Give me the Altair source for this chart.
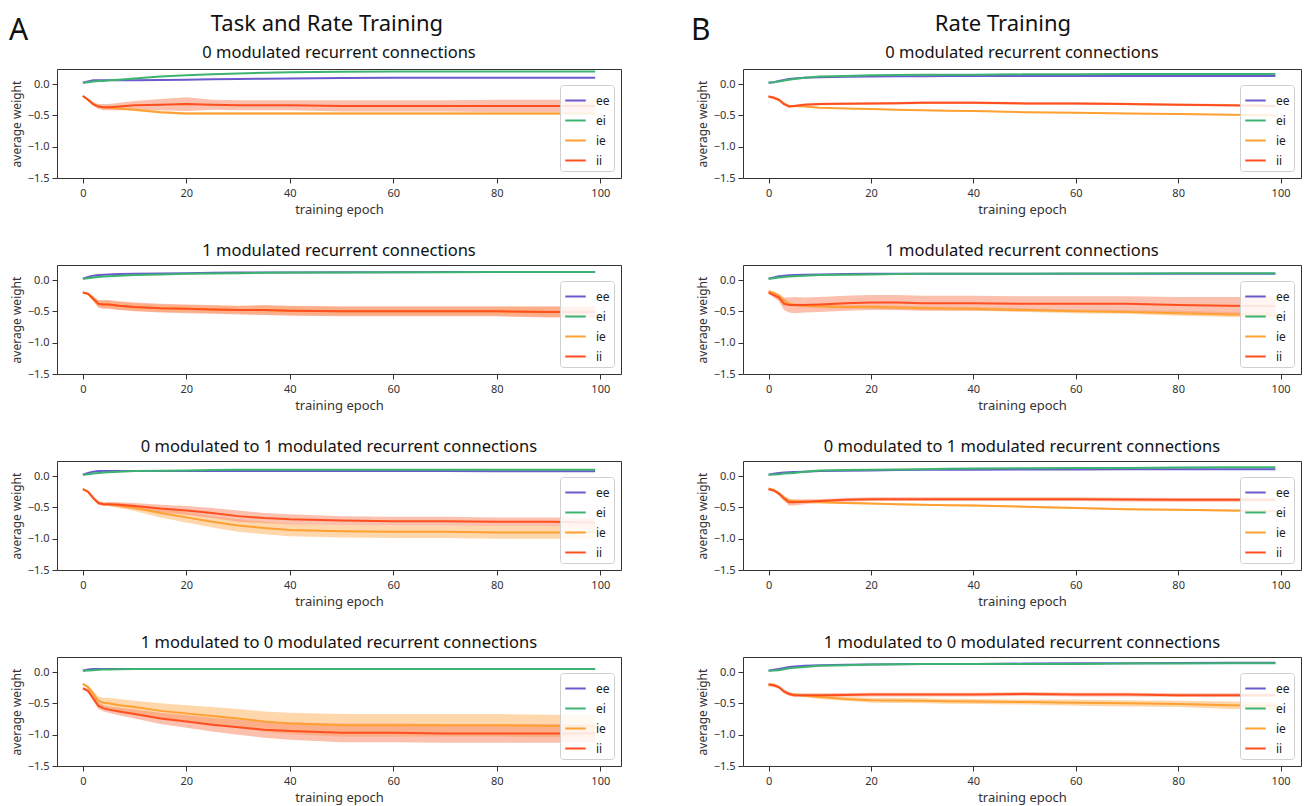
import altair as alt
import pandas as pd

FONT = "Noto Sans"

EPOCHS = [0, 1, 2, 3, 4, 5, 7, 10, 15, 20, 25, 30, 35, 40, 50, 60, 70, 80, 90, 99]
SERIES = ["ee", "ei", "ie", "ii"]
BAND_SERIES = ["ie", "ii"]
LINE_COLORS = ["#6a5acd", "#3cb371", "#ffa033", "#ff4f1f"]
BAND_COLORS = ["#fdb867", "#f78c6c"]

COLUMN_TITLES = ["Task and Rate Training", "Rate Training"]
COLUMN_LETTERS = ["A", "B"]
PANEL_TITLES = [
    "0 modulated recurrent connections",
    "1 modulated recurrent connections",
    "0 modulated to 1 modulated recurrent connections",
    "1 modulated to 0 modulated recurrent connections",
]
X_TICKS = [0, 20, 40, 60, 80, 100]
Y_TICKS = [-1.5, -1.0, -0.5, 0.0]

# ---------------- Column A : Task and Rate Training ----------------
A1_ee = [0.02, 0.04, 0.06, 0.06, 0.06, 0.06, 0.06, 0.06, 0.065, 0.07, 0.075, 0.08, 0.085, 0.09, 0.095, 0.10, 0.10, 0.10, 0.10, 0.10]
A1_ei = [0.02, 0.03, 0.04, 0.05, 0.05, 0.06, 0.07, 0.09, 0.12, 0.14, 0.155, 0.17, 0.18, 0.19, 0.195, 0.20, 0.20, 0.20, 0.20, 0.20]
A1_ie = [-0.19, -0.25, -0.32, -0.36, -0.37, -0.38, -0.39, -0.41, -0.45, -0.47, -0.47, -0.47, -0.47, -0.47, -0.47, -0.47, -0.47, -0.47, -0.47, -0.47]
A1_ie_sd = [0.01, 0.01, 0.02, 0.02, 0.02, 0.02, 0.02, 0.02, 0.02, 0.02, 0.02, 0.02, 0.02, 0.02, 0.02, 0.02, 0.02, 0.02, 0.02, 0.02]
A1_ii = [-0.19, -0.25, -0.32, -0.36, -0.37, -0.37, -0.36, -0.34, -0.33, -0.32, -0.33, -0.34, -0.34, -0.34, -0.35, -0.35, -0.35, -0.35, -0.35, -0.35]
A1_ii_sd = [0.01, 0.02, 0.03, 0.04, 0.05, 0.05, 0.06, 0.07, 0.09, 0.11, 0.08, 0.08, 0.08, 0.08, 0.09, 0.09, 0.09, 0.10, 0.10, 0.10]

A2_ee = [0.02, 0.05, 0.07, 0.08, 0.085, 0.09, 0.095, 0.10, 0.105, 0.11, 0.115, 0.12, 0.12, 0.12, 0.125, 0.125, 0.13, 0.13, 0.13, 0.13]
A2_ei = [0.02, 0.03, 0.04, 0.05, 0.055, 0.06, 0.07, 0.08, 0.09, 0.10, 0.105, 0.11, 0.115, 0.12, 0.12, 0.125, 0.125, 0.13, 0.13, 0.13]
A2_ie = [-0.20, -0.22, -0.30, -0.38, -0.39, -0.39, -0.41, -0.43, -0.45, -0.46, -0.47, -0.48, -0.48, -0.49, -0.50, -0.50, -0.50, -0.50, -0.51, -0.51]
A2_ie_sd = [0.01, 0.02, 0.04, 0.05, 0.06, 0.06, 0.06, 0.06, 0.06, 0.06, 0.06, 0.06, 0.07, 0.07, 0.07, 0.07, 0.07, 0.07, 0.08, 0.08]
A2_ii = [-0.20, -0.22, -0.30, -0.38, -0.39, -0.39, -0.41, -0.43, -0.45, -0.46, -0.47, -0.48, -0.48, -0.49, -0.50, -0.50, -0.50, -0.50, -0.51, -0.51]
A2_ii_sd = [0.01, 0.02, 0.04, 0.06, 0.07, 0.07, 0.07, 0.07, 0.07, 0.07, 0.07, 0.07, 0.08, 0.08, 0.08, 0.08, 0.08, 0.08, 0.09, 0.09]

A3_ee = [0.02, 0.05, 0.07, 0.08, 0.08, 0.08, 0.08, 0.08, 0.08, 0.08, 0.08, 0.08, 0.08, 0.08, 0.08, 0.08, 0.08, 0.075, 0.075, 0.075]
A3_ei = [0.02, 0.03, 0.04, 0.05, 0.055, 0.06, 0.07, 0.08, 0.085, 0.09, 0.095, 0.10, 0.10, 0.10, 0.10, 0.10, 0.10, 0.10, 0.10, 0.10]
A3_ie = [-0.21, -0.25, -0.35, -0.43, -0.45, -0.45, -0.47, -0.51, -0.59, -0.66, -0.73, -0.79, -0.83, -0.86, -0.88, -0.89, -0.89, -0.90, -0.90, -0.90]
A3_ie_sd = [0.01, 0.02, 0.02, 0.02, 0.02, 0.03, 0.04, 0.05, 0.07, 0.08, 0.09, 0.10, 0.10, 0.10, 0.10, 0.10, 0.10, 0.10, 0.10, 0.10]
A3_ii = [-0.21, -0.25, -0.35, -0.43, -0.45, -0.45, -0.46, -0.48, -0.52, -0.55, -0.59, -0.64, -0.67, -0.69, -0.71, -0.72, -0.72, -0.73, -0.73, -0.74]
A3_ii_sd = [0.01, 0.02, 0.02, 0.03, 0.03, 0.03, 0.04, 0.05, 0.06, 0.07, 0.08, 0.09, 0.08, 0.08, 0.07, 0.07, 0.07, 0.07, 0.07, 0.07]

A4_ee = [0.02, 0.04, 0.05, 0.05, 0.05, 0.05, 0.05, 0.05, 0.05, 0.05, 0.05, 0.05, 0.05, 0.05, 0.05, 0.05, 0.05, 0.05, 0.05, 0.05]
A4_ei = [0.02, 0.025, 0.03, 0.035, 0.04, 0.04, 0.045, 0.05, 0.05, 0.05, 0.05, 0.05, 0.05, 0.05, 0.05, 0.05, 0.05, 0.05, 0.05, 0.05]
A4_ie = [-0.19, -0.24, -0.35, -0.46, -0.49, -0.50, -0.53, -0.56, -0.62, -0.66, -0.70, -0.74, -0.79, -0.82, -0.85, -0.85, -0.85, -0.85, -0.86, -0.86]
A4_ie_sd = [0.02, 0.03, 0.05, 0.07, 0.08, 0.09, 0.10, 0.10, 0.12, 0.13, 0.14, 0.15, 0.16, 0.17, 0.18, 0.18, 0.18, 0.18, 0.18, 0.18]
A4_ii = [-0.26, -0.30, -0.42, -0.54, -0.58, -0.60, -0.63, -0.67, -0.74, -0.79, -0.84, -0.88, -0.92, -0.94, -0.97, -0.97, -0.98, -0.98, -0.98, -0.98]
A4_ii_sd = [0.02, 0.03, 0.04, 0.05, 0.05, 0.05, 0.06, 0.07, 0.09, 0.10, 0.11, 0.12, 0.13, 0.14, 0.15, 0.15, 0.15, 0.15, 0.15, 0.15]

# ---------------- Column B : Rate Training ----------------
B1_ee = [0.02, 0.03, 0.05, 0.065, 0.08, 0.09, 0.10, 0.11, 0.115, 0.12, 0.125, 0.125, 0.13, 0.13, 0.13, 0.13, 0.13, 0.13, 0.13, 0.13]
B1_ei = [0.02, 0.03, 0.04, 0.055, 0.07, 0.08, 0.10, 0.12, 0.13, 0.14, 0.145, 0.15, 0.15, 0.15, 0.155, 0.155, 0.16, 0.16, 0.16, 0.16]
B1_ie = [-0.20, -0.22, -0.25, -0.31, -0.35, -0.35, -0.36, -0.38, -0.39, -0.40, -0.41, -0.42, -0.425, -0.43, -0.45, -0.46, -0.47, -0.48, -0.49, -0.50]
B1_ie_sd = [0.01, 0.01, 0.01, 0.01, 0.01, 0.01, 0.01, 0.01, 0.01, 0.01, 0.01, 0.01, 0.01, 0.01, 0.01, 0.01, 0.01, 0.01, 0.01, 0.01]
B1_ii = [-0.20, -0.22, -0.25, -0.32, -0.36, -0.35, -0.33, -0.32, -0.315, -0.31, -0.305, -0.30, -0.30, -0.30, -0.31, -0.31, -0.32, -0.33, -0.34, -0.35]
B1_ii_sd = [0.02, 0.02, 0.02, 0.02, 0.02, 0.02, 0.02, 0.02, 0.02, 0.02, 0.02, 0.02, 0.02, 0.02, 0.02, 0.02, 0.02, 0.02, 0.02, 0.02]

B2_ee = [0.02, 0.04, 0.06, 0.07, 0.075, 0.08, 0.085, 0.09, 0.095, 0.10, 0.10, 0.10, 0.10, 0.10, 0.10, 0.10, 0.10, 0.10, 0.10, 0.10]
B2_ei = [0.02, 0.03, 0.04, 0.05, 0.055, 0.06, 0.07, 0.08, 0.085, 0.09, 0.095, 0.10, 0.10, 0.10, 0.10, 0.105, 0.105, 0.11, 0.11, 0.11]
B2_ie = [-0.18, -0.20, -0.25, -0.33, -0.38, -0.40, -0.41, -0.42, -0.43, -0.43, -0.44, -0.45, -0.455, -0.46, -0.48, -0.50, -0.51, -0.53, -0.55, -0.56]
B2_ie_sd = [0.01, 0.01, 0.02, 0.03, 0.03, 0.03, 0.03, 0.03, 0.03, 0.03, 0.03, 0.03, 0.03, 0.03, 0.03, 0.03, 0.03, 0.04, 0.04, 0.04]
B2_ii = [-0.20, -0.24, -0.28, -0.38, -0.40, -0.40, -0.40, -0.39, -0.37, -0.36, -0.36, -0.37, -0.37, -0.37, -0.38, -0.38, -0.38, -0.40, -0.41, -0.42]
B2_ii_sd = [0.02, 0.04, 0.06, 0.10, 0.12, 0.13, 0.12, 0.12, 0.12, 0.12, 0.12, 0.12, 0.12, 0.12, 0.12, 0.12, 0.12, 0.13, 0.14, 0.15]

B3_ee = [0.02, 0.035, 0.05, 0.055, 0.06, 0.065, 0.07, 0.08, 0.085, 0.09, 0.095, 0.10, 0.10, 0.10, 0.105, 0.105, 0.11, 0.11, 0.11, 0.11]
B3_ei = [0.02, 0.025, 0.03, 0.04, 0.045, 0.05, 0.07, 0.09, 0.095, 0.10, 0.105, 0.11, 0.115, 0.12, 0.125, 0.13, 0.13, 0.135, 0.14, 0.14]
B3_ie = [-0.20, -0.22, -0.27, -0.34, -0.39, -0.40, -0.41, -0.42, -0.43, -0.44, -0.45, -0.46, -0.465, -0.47, -0.49, -0.51, -0.53, -0.54, -0.55, -0.56]
B3_ie_sd = [0.015, 0.015, 0.015, 0.015, 0.015, 0.015, 0.015, 0.015, 0.015, 0.015, 0.015, 0.015, 0.015, 0.015, 0.015, 0.015, 0.015, 0.015, 0.015, 0.015]
B3_ii = [-0.21, -0.23, -0.28, -0.36, -0.42, -0.42, -0.41, -0.40, -0.38, -0.37, -0.37, -0.37, -0.37, -0.37, -0.37, -0.37, -0.375, -0.38, -0.38, -0.38]
B3_ii_sd = [0.02, 0.02, 0.03, 0.04, 0.05, 0.05, 0.04, 0.03, 0.03, 0.03, 0.03, 0.03, 0.03, 0.03, 0.03, 0.03, 0.03, 0.03, 0.03, 0.03]

B4_ee = [0.02, 0.035, 0.05, 0.065, 0.08, 0.09, 0.10, 0.11, 0.115, 0.12, 0.125, 0.13, 0.13, 0.13, 0.135, 0.14, 0.14, 0.145, 0.15, 0.15]
B4_ei = [0.02, 0.025, 0.03, 0.045, 0.06, 0.07, 0.08, 0.10, 0.11, 0.12, 0.125, 0.13, 0.13, 0.13, 0.13, 0.13, 0.135, 0.135, 0.14, 0.14]
B4_ie = [-0.20, -0.21, -0.24, -0.31, -0.35, -0.36, -0.38, -0.40, -0.43, -0.45, -0.455, -0.46, -0.465, -0.47, -0.48, -0.49, -0.50, -0.51, -0.53, -0.54]
B4_ie_sd = [0.01, 0.01, 0.01, 0.02, 0.02, 0.02, 0.02, 0.03, 0.03, 0.04, 0.04, 0.04, 0.04, 0.04, 0.04, 0.05, 0.05, 0.05, 0.06, 0.06]
B4_ii = [-0.20, -0.21, -0.24, -0.31, -0.35, -0.37, -0.37, -0.37, -0.365, -0.36, -0.36, -0.36, -0.36, -0.36, -0.35, -0.36, -0.36, -0.37, -0.37, -0.37]
B4_ii_sd = [0.03, 0.03, 0.03, 0.03, 0.03, 0.03, 0.03, 0.03, 0.03, 0.03, 0.03, 0.03, 0.03, 0.03, 0.03, 0.03, 0.03, 0.03, 0.03, 0.03]

PANELS_A = [
    (A1_ee, A1_ei, A1_ie, A1_ie_sd, A1_ii, A1_ii_sd),
    (A2_ee, A2_ei, A2_ie, A2_ie_sd, A2_ii, A2_ii_sd),
    (A3_ee, A3_ei, A3_ie, A3_ie_sd, A3_ii, A3_ii_sd),
    (A4_ee, A4_ei, A4_ie, A4_ie_sd, A4_ii, A4_ii_sd),
]
PANELS_B = [
    (B1_ee, B1_ei, B1_ie, B1_ie_sd, B1_ii, B1_ii_sd),
    (B2_ee, B2_ei, B2_ie, B2_ie_sd, B2_ii, B2_ii_sd),
    (B3_ee, B3_ei, B3_ie, B3_ie_sd, B3_ii, B3_ii_sd),
    (B4_ee, B4_ei, B4_ie, B4_ie_sd, B4_ii, B4_ii_sd),
]


def make_df(ee, ei, ie, ie_sd, ii, ii_sd):
    rows = []
    zeros = [0.0] * len(EPOCHS)
    for name, mean, sd in (("ee", ee, zeros), ("ei", ei, zeros), ("ie", ie, ie_sd), ("ii", ii, ii_sd)):
        for e, m, s in zip(EPOCHS, mean, sd):
            rows.append({"epoch": e, "series": name, "mean": m, "lo": m - s, "hi": m + s})
    return pd.DataFrame(rows)


X_SCALE = alt.Scale(domain=[-5, 104], nice=False, zero=False)
Y_SCALE = alt.Scale(domain=[-1.5, 0.24], nice=False, zero=False)

SUB_SIZE = 16.5
COL_SIZE = 22
LETTER_SIZE = 30


def text_layer(label, size, x, y, align):
    tdf = pd.DataFrame({"t": [label]})
    return alt.Chart(tdf).mark_text(fontSize=size, align=align, baseline="middle",
                                    font=FONT, color="#111").encode(
        text="t:N", x=alt.value(x), y=alt.value(y))


def panel(data, title, width, height, first=False, letter=None, col_title=None,
          letter_dx=-50, title_dx=0):
    df = make_df(*data)
    base = alt.Chart(df)
    x = alt.X("epoch:Q", scale=X_SCALE,
              axis=alt.Axis(values=X_TICKS, title="training epoch", format="d"))
    band = base.transform_filter(
        alt.FieldOneOfPredicate(field="series", oneOf=BAND_SERIES)
    ).mark_area(opacity=0.55).encode(
        x=x,
        y=alt.Y("lo:Q", scale=Y_SCALE, title="average weight",
                axis=alt.Axis(values=Y_TICKS, format=".1f")),
        y2="hi:Q",
        fill=alt.Fill("series:N", scale=alt.Scale(domain=BAND_SERIES, range=BAND_COLORS), legend=None),
    )
    lines = base.mark_line(strokeWidth=2).encode(
        x=x,
        y=alt.Y("mean:Q", scale=Y_SCALE, title="average weight",
                axis=alt.Axis(values=Y_TICKS, format=".1f")),
        color=alt.Color(
            "series:N",
            scale=alt.Scale(domain=SERIES, range=LINE_COLORS),
            legend=alt.Legend(
                title=None, orient="bottom-right", offset=7,
                fillColor="rgba(255,255,255,0.85)", strokeColor="#d0d0d0",
                cornerRadius=3, padding=4, symbolType="M-1,0H1",
                symbolStrokeWidth=2, symbolSize=420, labelFontSize=12,
                rowPadding=2, labelFont=FONT, labelColor="#222",
                labelOffset=9,
            ),
        ),
        order=alt.Order("epoch:Q"),
    )
    layers = [band, lines]
    props = dict(width=width, height=height)
    if first:
        layers.append(text_layer(title, SUB_SIZE, width / 2, -16, "center"))
        layers.append(text_layer(col_title, COL_SIZE, width / 2 + title_dx, -45, "center"))
        layers.append(text_layer(letter, LETTER_SIZE, letter_dx, -38, "left"))
    else:
        props["title"] = alt.TitleParams(title, fontSize=SUB_SIZE, fontWeight="normal", font=FONT,
                                         color="#111", offset=6, frame="group", anchor="middle")
    return alt.layer(*layers).properties(**props)


H = 109
WA = 564
WB = 558
VSP = 25

col_a = alt.vconcat(*[
    panel(PANELS_A[i], PANEL_TITLES[i], WA, H, first=(i == 0),
          letter=COLUMN_LETTERS[0], col_title=COLUMN_TITLES[0],
          letter_dx=-48, title_dx=-12)
    for i in range(4)
], spacing=VSP).resolve_scale(color="independent", fill="independent").resolve_legend(color="independent")

col_b = alt.vconcat(*[
    panel(PANELS_B[i], PANEL_TITLES[i], WB, H, first=(i == 0),
          letter=COLUMN_LETTERS[1], col_title=COLUMN_TITLES[1],
          letter_dx=-52, title_dx=-19)
    for i in range(4)
], spacing=VSP).resolve_scale(color="independent", fill="independent").resolve_legend(color="independent")

chart = alt.hconcat(col_a, col_b, spacing=68).resolve_scale(
    color="independent", fill="independent"
).resolve_legend(color="independent").properties(
    padding={"left": 0, "top": 4, "right": 0, "bottom": 0},
    background="white",
).configure_view(
    stroke="#333", strokeWidth=1
).configure_axis(
    grid=False, domain=False, tickColor="#333", tickSize=5, labelFontSize=11,
    labelFont=FONT, labelColor="#333", titleFont=FONT, titleFontWeight="normal",
    titleColor="#333", titleFontSize=13, labelPadding=3,
).configure_axisY(
    titleFontSize=12, titlePadding=4,
).configure_axisX(
    titlePadding=5, labelPadding=4,
)

chart.save("out.html", embed_options={"renderer": "svg", "actions": False})
